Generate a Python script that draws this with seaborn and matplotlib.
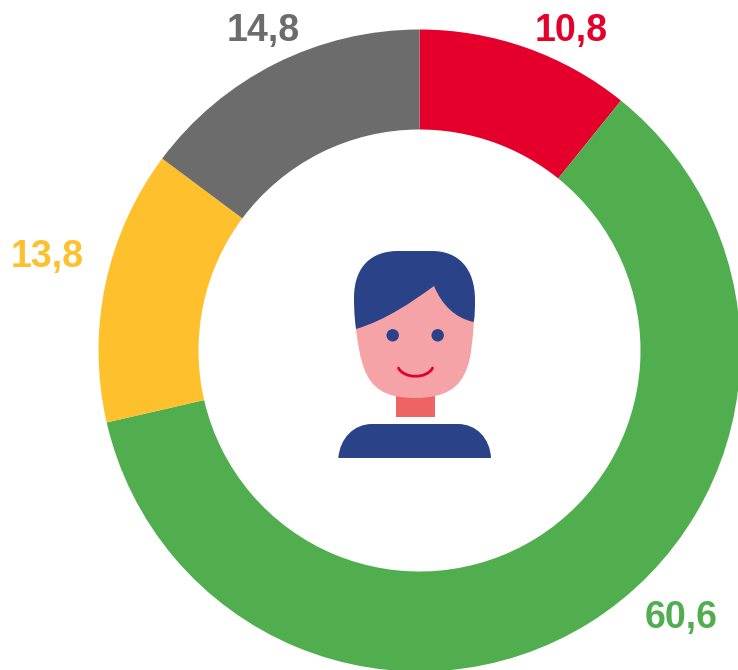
import matplotlib
matplotlib.use("Agg")
import matplotlib.pyplot as plt
from matplotlib.patches import PathPatch, Circle, Rectangle
from matplotlib.path import Path
import seaborn as sns

values = [10.8, 60.6, 13.8, 14.8]
labels = ["10,8", "60,6", "13,8", "14,8"]
colors = ["#E4002B", "#50AE4F", "#FFC02D", "#6C6C6C"]
label_xy = [(571, 31), (681, 618), (47, 257), (263, 31)]

NAVY = "#2A4288"
SKIN = "#F5A3A6"
NECK = "#EE6363"

sns.set_theme(style="white", palette=sns.color_palette(colors))
plt.rcParams["font.family"] = ["Liberation Sans", "DejaVu Sans"]

fig = plt.figure(figsize=(7.38, 6.70), dpi=100, facecolor="white")
ax = fig.add_axes([0, 0, 1, 1])

# y axis runs downwards, so a "counterclockwise" pie from -90 runs clockwise from the top
ax.pie(values, colors=sns.color_palette(colors), startangle=-90, counterclock=True,
       center=(419.5, 350.5), radius=321, frame=True,
       wedgeprops=dict(width=100, linewidth=0))
ax.set_xlim(0, 738)
ax.set_ylim(670, 0)
ax.set_aspect("equal")
ax.axis("off")


def shape(start, *curves, color):
    verts, codes = [start], [Path.MOVETO]
    for c in curves:
        verts.extend(c)
        codes.extend([{1: Path.LINETO, 2: Path.CURVE3, 3: Path.CURVE4}[len(c)]] * len(c))
    verts.append(start)
    codes.append(Path.CLOSEPOLY)
    ax.add_patch(PathPatch(Path(verts, codes), facecolor=color, edgecolor="none", lw=0, zorder=3))


# neck
ax.add_patch(Rectangle((396, 390), 39.3, 27, facecolor=NECK, edgecolor="none", zorder=2.5))
# face
shape((356, 300),
      [(434, 280)], [(474, 300)], [(474, 322)],
      [(472, 345), (471, 358), (467, 368)],
      [(460, 388), (445, 398), (415, 398)],
      [(385, 398), (371, 388), (364, 368)],
      [(360, 358), (358, 345), (356, 329)],
      color=SKIN)
# hair
shape((356, 329),
      [(354, 315), (354, 303), (354, 298)],
      [(354, 266), (372, 251), (398, 251)],
      [(432, 251)],
      [(458, 251), (475, 268), (475, 300)],
      [(475, 308), (475, 315), (473.7, 322)],
      [(455, 318), (442, 305), (434, 286)],
      [(412, 302), (386, 320), (356, 329)],
      color=NAVY)
# body
shape((338.3, 458),
      [(340, 438), (354, 424), (372, 424)],
      [(458, 424)],
      [(476, 424), (490, 438), (491, 458)],
      color=NAVY)
# eyes
for ex in (392.7, 437.7):
    ax.add_patch(Circle((ex, 335.3), 6.2, facecolor=NAVY, edgecolor="none", zorder=4))
# smile
smile = Path([(398.5, 368), (404, 379), (427, 379), (432.5, 368)],
             [Path.MOVETO, Path.CURVE4, Path.CURVE4, Path.CURVE4])
ax.add_patch(PathPatch(smile, facecolor="none", edgecolor="#E4002B", lw=2.0, capstyle="round", zorder=4))

for txt, (x, y), c in zip(labels, label_xy, colors):
    ax.text(x, y, txt, color=c, fontsize=27, fontweight="bold", ha="center", va="center")

fig.savefig("out.png", dpi=100, facecolor="white")
